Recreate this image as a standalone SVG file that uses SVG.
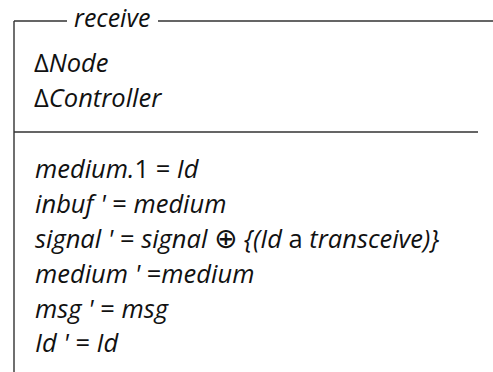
<svg xmlns="http://www.w3.org/2000/svg" width="493" height="372" viewBox="0 0 493 372">
<style>
.ln{stroke:#333;stroke-width:1.4;fill:none}
text{font-family:"Open Sans","Noto Sans","DejaVu Sans",sans-serif;font-size:25.5px;fill:#111;font-style:italic}
.u{font-style:normal}
.op{font-style:normal;font-size:28px}
</style>
<rect width="493" height="372" fill="#fff"/>
<g id="schema-frame">
<path class="ln" d="M14,21 H67 M158,21 H493 M14,21 V372 M14,132 H478"/>
</g>
<g id="title"><text x="74" y="27" style="font-size:25px">receive</text></g>
<g id="declarations">
<text x="34" y="72"><tspan class="u">Δ</tspan>Node</text>
<text x="34" y="107"><tspan class="u">Δ</tspan>Controller</text>
</g>
<g id="predicates">
<text x="35" y="178">medium.<tspan class="u">1 = </tspan>Id</text>
<text x="35" y="213">inbuf ' <tspan class="u">= </tspan>medium</text>
<text x="35" y="248">signal ' <tspan class="u">= </tspan>signal <tspan class="op">⊕</tspan> {(Id <tspan class="u">a</tspan> transceive)}</text>
<text x="35" y="283">medium ' <tspan class="u">=</tspan>medium</text>
<text x="35" y="318">msg ' <tspan class="u">= </tspan>msg</text>
<text x="35" y="352">Id ' <tspan class="u">= </tspan>Id</text>
</g>
</svg>
